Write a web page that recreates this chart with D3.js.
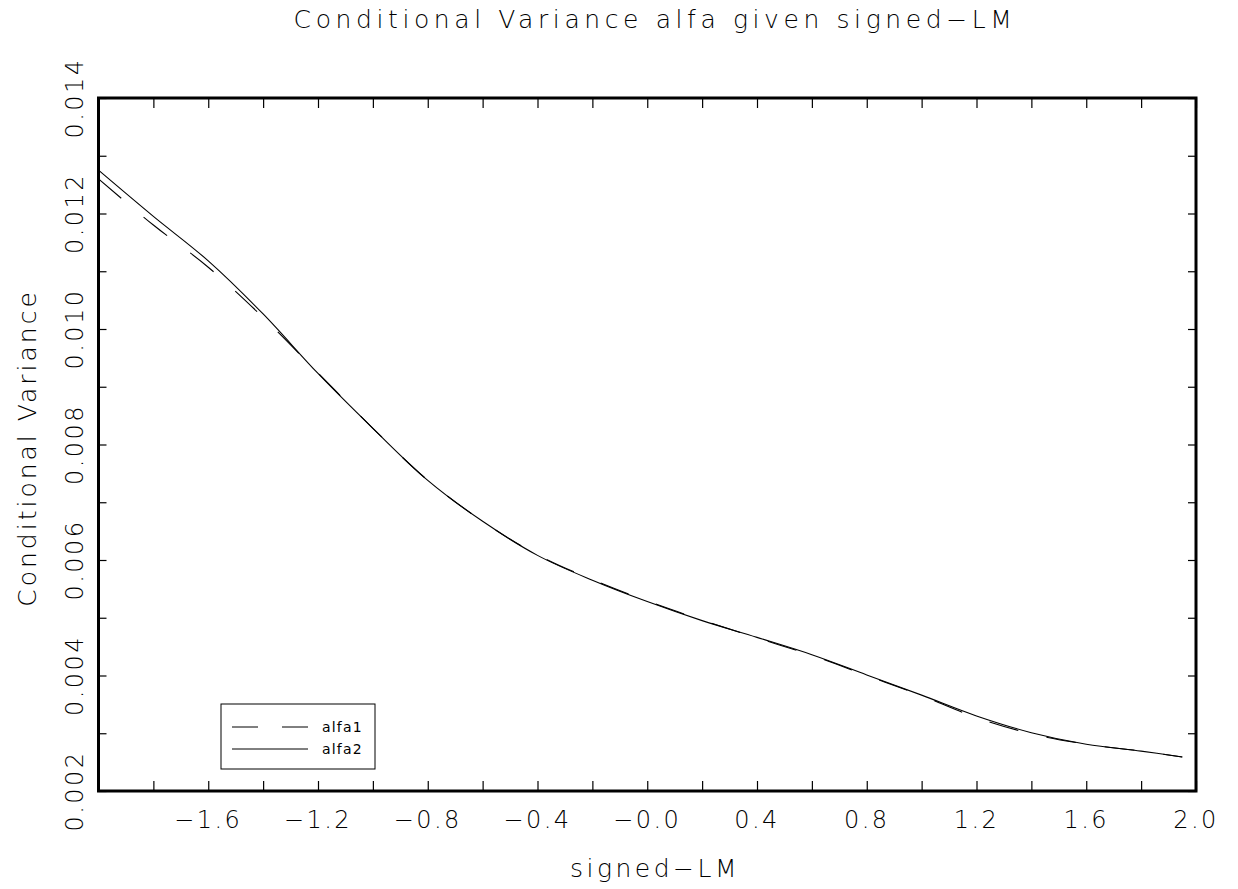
<!DOCTYPE html>
<html>
<head>
<meta charset="utf-8">
<script src="https://cdn.jsdelivr.net/npm/d3@7"></script>
<style>
  body { margin: 0; background: #fff; }
  text { font-family: "DejaVu Sans", sans-serif; font-weight: 200; fill: #000; }
</style>
</head>
<body>
<div id="chart"></div>
<script>

// Values
var xValues = [-2.0, -1.8, -1.6, -1.4, -1.2, -1.0, -0.8, -0.6, -0.4, -0.2, 0.0,
               0.2, 0.4, 0.6, 0.8, 1.0, 1.2, 1.4, 1.6, 1.8, 1.95];
var alfa1 = [0.01260, 0.01180, 0.01107, 0.01020, 0.00924, 0.00828, 0.00738,
             0.00667, 0.00609, 0.00566, 0.00529, 0.00496, 0.00465, 0.00435,
             0.00400, 0.00365, 0.00327, 0.00299, 0.00281, 0.00269, 0.00259];
var alfa2 = [0.01275, 0.01195, 0.01118, 0.01026, 0.00923, 0.00828, 0.00738,
             0.00667, 0.00608, 0.00565, 0.00528, 0.00495, 0.00466, 0.00436,
             0.00401, 0.00366, 0.00330, 0.00301, 0.00281, 0.00269, 0.00259];

var xTickLabels = ["\u22121.6", "\u22121.2", "\u22120.8", "\u22120.4", "\u22120.0",
                   "0.4", "0.8", "1.2", "1.6", "2.0"];
var xTickPos = [-1.6, -1.2, -0.8, -0.4, 0.0, 0.4, 0.8, 1.2, 1.6, 2.0];
var yTickLabels = ["0.002", "0.004", "0.006", "0.008", "0.010", "0.012", "0.014"];
var yTickPos = [0.002, 0.004, 0.006, 0.008, 0.010, 0.012, 0.014];

var seriesNames = ["alfa1", "alfa2"];

// Dimensions and margins
var W = 1238, H = 889;
var margin = { top: 98, right: 42, bottom: 98, left: 98.5 };
var width = W - margin.left - margin.right;
var height = H - margin.top - margin.bottom;

var x = d3.scaleLinear().domain([-2, 2]).range([0, width]);
var y = d3.scaleLinear().domain([0.002, 0.014]).range([height, 0]);

var root = d3.select("#chart").append("svg")
    .attr("width", W)
    .attr("height", H);

var svg = root.append("g")
    .attr("transform", "translate(" + margin.left + "," + margin.top + ")");

// Inward tick marks on all four sides
var minorX = d3.range(-2, 2.0001, 0.2);
var minorY = d3.range(0.002, 0.01401, 0.001);

function tickAxis(axis, tr) {
    var g = svg.append("g").attr("transform", tr).call(axis);
    g.select(".domain").remove();
    g.selectAll("line").attr("stroke", "#000").attr("stroke-width", 1.2);
}
tickAxis(d3.axisBottom(x).tickValues(minorX).tickSize(-10).tickFormat(""), "translate(0," + height + ")");
tickAxis(d3.axisTop(x).tickValues(minorX).tickSize(-10).tickFormat(""), "translate(0,0)");
tickAxis(d3.axisLeft(y).tickValues(minorY).tickSize(-8).tickFormat(""), "translate(0,0)");
tickAxis(d3.axisRight(y).tickValues(minorY).tickSize(-8).tickFormat(""), "translate(" + width + ",0)");

// Frame
svg.append("rect")
    .attr("width", width)
    .attr("height", height)
    .attr("fill", "none")
    .attr("stroke", "#000")
    .attr("stroke-width", 3);

// x tick labels
svg.selectAll(".xlab")
    .data(xTickPos)
    .enter().append("text")
    .attr("class", "xlab")
    .attr("x", function (d) { return x(d); })
    .attr("y", height + 37)
    .attr("text-anchor", "middle")
    .style("font-size", "24px")
    .style("letter-spacing", "2.5px")
    .text(function (d, i) { return xTickLabels[i]; });

// y tick labels (rotated)
svg.selectAll(".ylab")
    .data(yTickPos)
    .enter().append("text")
    .attr("class", "ylab")
    .attr("transform", function (d) { return "translate(" + (-15.5) + "," + y(d) + ") rotate(-90)"; })
    .attr("text-anchor", "middle")
    .style("font-size", "24px")
    .style("letter-spacing", "2.5px")
    .text(function (d, i) { return yTickLabels[i]; });

// Title and axis labels
root.append("text")
    .attr("x", 655)
    .attr("y", 28)
    .attr("text-anchor", "middle")
    .style("font-size", "25px")
    .style("letter-spacing", "4.6px")
    .text("Conditional Variance alfa given signed\u2212LM");

root.append("text")
    .attr("x", 655)
    .attr("y", 877)
    .attr("text-anchor", "middle")
    .style("font-size", "25px")
    .style("letter-spacing", "3.5px")
    .text("signed\u2212LM");

root.append("text")
    .attr("transform", "translate(36,448) rotate(-90)")
    .attr("text-anchor", "middle")
    .style("font-size", "25px")
    .style("letter-spacing", "3px")
    .text("Conditional Variance");

// Lines
var line = d3.line()
    .x(function (d) { return x(d[0]); })
    .y(function (d) { return y(d[1]); })
    .curve(d3.curveCatmullRom);

svg.append("path")
    .datum(d3.zip(xValues, alfa1))
    .attr("fill", "none")
    .attr("stroke", "#000")
    .attr("stroke-width", 1.1)
    .attr("stroke-dasharray", "30,29")
    .attr("d", line);

svg.append("path")
    .datum(d3.zip(xValues, alfa2))
    .attr("fill", "none")
    .attr("stroke", "#000")
    .attr("stroke-width", 1.1)
    .attr("d", line);

// Legend
var legend = root.append("g").attr("transform", "translate(221,704)");
legend.append("rect")
    .attr("width", 154)
    .attr("height", 65)
    .attr("fill", "#fff")
    .attr("stroke", "#000")
    .attr("stroke-width", 1);

seriesNames.forEach(function (name, i) {
    legend.append("line")
        .attr("x1", 11).attr("x2", 87)
        .attr("y1", 23 + i * 22).attr("y2", 23 + i * 22)
        .attr("stroke", "#000")
        .attr("stroke-width", 1)
        .attr("stroke-dasharray", i === 0 ? "26,24" : null);
    legend.append("text")
        .attr("x", 101)
        .attr("y", 28 + i * 22)
        .style("font-size", "14px")
        .style("font-weight", "normal")
        .style("letter-spacing", "1.2px")
        .text(name);
});
</script>
</body>
</html>
